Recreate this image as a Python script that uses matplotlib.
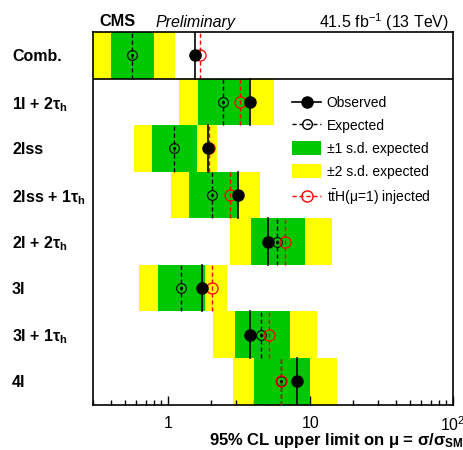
import matplotlib
matplotlib.use("Agg")
import matplotlib.pyplot as plt
from matplotlib.lines import Line2D
from matplotlib.patches import Patch
from matplotlib.ticker import FixedLocator, NullFormatter
import numpy as np

plt.rcParams['font.family'] = ['Liberation Sans', 'DejaVu Sans']
plt.rcParams['mathtext.fontset'] = 'custom'
plt.rcParams['mathtext.rm'] = 'Liberation Sans'
plt.rcParams['mathtext.it'] = 'Liberation Sans:italic'
plt.rcParams['mathtext.bf'] = 'Liberation Sans:bold'

# channels, top to bottom
channels = ["Comb.", "1l + 2τ$_\\mathbf{h}$", "2lss", "2lss + 1τ$_\\mathbf{h}$",
            "2l + 2τ$_\\mathbf{h}$", "3l", "3l + 1τ$_\\mathbf{h}$", "4l"]
observed = [1.54, 3.80, 1.93, 3.13, 5.08, 1.73, 3.77, 8.11]
expected = [0.56, 2.42, 1.10, 2.03, 5.81, 1.24, 4.48, 6.26]
injected = [1.68, 3.19, 1.95, 2.72, 6.68, 2.03, 5.10, 6.26]
lo1 = [0.40, 1.64, 0.78, 1.42, 3.82, 0.85, 2.98, 4.05]
hi1 = [0.80, 3.80, 1.61, 3.11, 9.22, 1.81, 7.20, 9.94]
lo2 = [0.28, 1.19, 0.58, 1.06, 2.73, 0.63, 2.09, 2.89]
hi2 = [1.12, 5.53, 2.22, 4.46, 14.3, 2.62, 11.1, 15.5]

GREEN = '#00c800'
YELLOW = '#ffff00'

fig = plt.figure(figsize=(4.64, 4.50), dpi=100)
ax = fig.add_axes([0.201, 0.101, 0.775, 0.828])

n = len(channels)
ys = np.arange(n)[::-1] + 0.5

lo1 = np.array(lo1); hi1 = np.array(hi1)
lo2 = np.array(lo2); hi2 = np.array(hi2)
ax.barh(ys, hi2 - lo2, left=lo2, height=1.0, color=YELLOW, lw=0, zorder=1)
ax.barh(ys, hi1 - lo1, left=lo1, height=1.0, color=GREEN, lw=0, zorder=2)

for y, o, e, inj in zip(ys, observed, expected, injected):
    ax.plot([e, e], [y - 0.5, y + 0.5], color='black', lw=1.0, ls=(0, (3, 2)), zorder=3)
    ax.plot([inj, inj], [y - 0.5, y + 0.5], color='red', lw=1.0, ls=(0, (3, 2)), zorder=3)
    ax.plot([o, o], [y - 0.5, y + 0.5], color='black', lw=1.2, zorder=4)

ax.plot(expected, ys, 'o', mfc='none', mec='black', mew=0.8, ms=7, zorder=5)
ax.plot(expected, ys, 'o', color='black', ms=1.2, zorder=5)
ax.plot(injected, ys, 'o', mfc='none', mec='red', mew=0.9, ms=8, zorder=5)
ax.plot(observed, ys, 'o', color='black', ms=8, zorder=6)

ax.axhline(n - 1, color='black', lw=1.2, zorder=7)

ax.set_xscale('log')
ax.set_xlim(0.3, 100)
ax.set_ylim(0, n)

ax.set_yticks(ys)
ax.set_yticklabels(channels, fontsize=11.5, fontweight='bold', ha='left')
ax.tick_params(axis='y', length=0, pad=58.5)

ax.xaxis.set_major_locator(FixedLocator([1, 10, 100]))
ax.set_xticklabels(['1', '10', '$10^{2}$'], fontsize=11.5)
minors = [m * d for d in (0.1, 1, 10) for m in range(2, 10) if 0.3 <= m * d < 100]
ax.xaxis.set_minor_locator(FixedLocator(minors))
ax.xaxis.set_minor_formatter(NullFormatter())
ax.tick_params(axis='x', which='major', direction='in', length=6.5, width=1, pad=8)
ax.tick_params(axis='x', which='minor', direction='in', length=3.3, width=1)
for s in ax.spines.values():
    s.set_linewidth(1.2)

fig.text(99 / 464, 1 - 22 / 450, 'CMS', fontsize=11.7, fontweight='bold', va='center')
fig.text(156 / 464, 1 - 22 / 450, 'Preliminary', fontsize=11.5, style='italic', va='center')
fig.text(449 / 464, 1 - 22 / 450, '41.5 fb$^{-1}$ (13 TeV)', fontsize=11.5, ha='right', va='center')

fig.text(463 / 464, 1 - 440 / 450, '95% CL upper limit on μ = σ/σ$_{\\mathbf{SM}}$',
         fontsize=12, fontweight='bold', ha='right', va='center')

handles = [
    Line2D([0], [0], color='black', lw=1.2, marker='o', ms=8),
    Line2D([0], [0], color='black', lw=1.0, ls=(0, (3, 2)), marker='o', mfc='none', mec='black', ms=7),
    Patch(facecolor=GREEN, edgecolor='none'),
    Patch(facecolor=YELLOW, edgecolor='none'),
    Line2D([0], [0], color='red', lw=1.0, ls=(0, (3, 2)), marker='o', mfc='none', mec='red', ms=8),
]
labels = ['Observed', 'Expected', '±1 s.d. expected', '±2 s.d. expected',
          't$\\bar{\\mathrm{t}}$H(μ=1) injected']
ax.legend(handles, labels, loc='upper left', bbox_to_anchor=(292 / 464, 1 - 96 / 450),
          bbox_transform=fig.transFigure, frameon=False, fontsize=10,
          handlelength=2.1, handleheight=1.1, handletextpad=0.4,
          labelspacing=0.6, borderpad=0, borderaxespad=0)

fig.savefig('out.png', dpi=100)
